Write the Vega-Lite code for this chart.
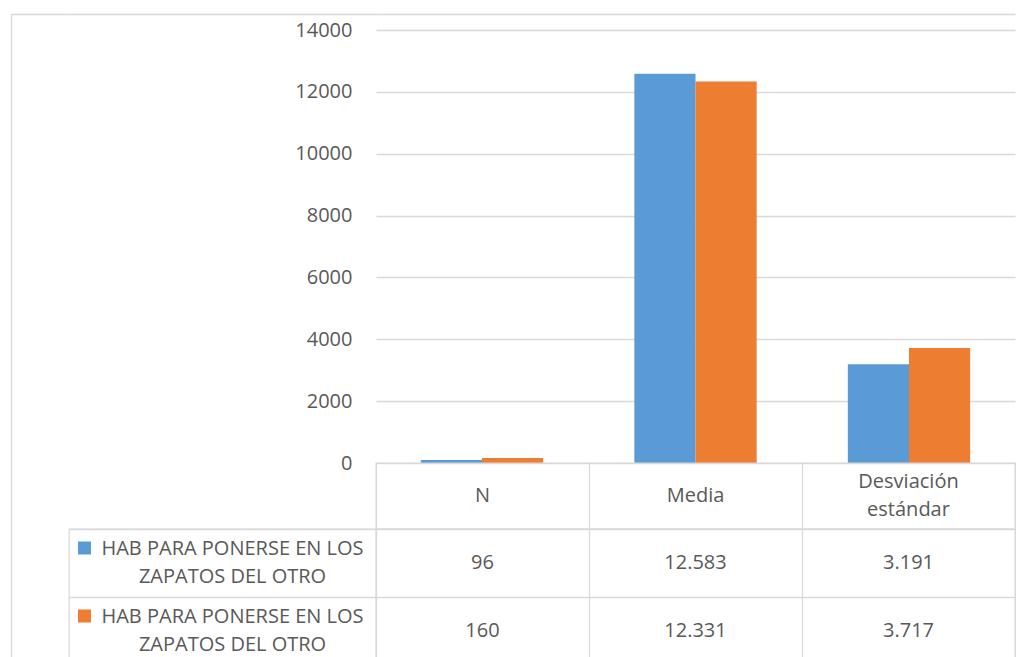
{
  "$schema": "https://vega.github.io/schema/vega-lite/v6.json",
  "background": "white",
  "padding": {"left": 8, "top": 11, "right": 0, "bottom": 0},
  "config": {
    "font": "Open Sans",
    "locale": {"number": {"decimal": ",", "thousands": ".", "grouping": [3], "currency": ["", " €"]}},
    "view": {"stroke": null},
    "axis": {"labelFont": "Open Sans"}
  },
  "datasets": {
    "stats": [
      {"estadistico": "N", "serie": "A", "valor": 96},
      {"estadistico": "N", "serie": "B", "valor": 160},
      {"estadistico": "Media", "serie": "A", "valor": 12583},
      {"estadistico": "Media", "serie": "B", "valor": 12331},
      {"estadistico": "Desviación estándar", "serie": "A", "valor": 3191},
      {"estadistico": "Desviación estándar", "serie": "B", "valor": 3717}
    ],
    "series": [
      {"serie": "A", "nombre": "HAB PARA PONERSE EN LOS\nZAPATOS DEL OTRO"},
      {"serie": "B", "nombre": "HAB PARA PONERSE EN LOS\nZAPATOS DEL OTRO"}
    ],
    "cols": [
      {"estadistico": "N"},
      {"estadistico": "Media"},
      {"estadistico": "Desviación estándar"}
    ],
    "blank": [{}]
  },
  "columns": 3,
  "spacing": 0,
  "bounds": "flush",
  "resolve": {"scale": {"x": "independent", "y": "independent", "color": "independent", "xOffset": "independent"}},
  "concat": [
    {
      "width": 58, "height": 16,
      "data": {"name": "blank"},
      "mark": {"type": "point", "opacity": 0},
      "encoding": {
        "x": {"datum": 0, "type": "quantitative", "axis": {"orient": "top", "domainColor": "#d9d9d9", "domainWidth": 1.3, "labels": false, "ticks": false, "grid": false, "title": null}},
        "y": {"datum": 0, "type": "quantitative", "axis": {"orient": "left", "domainColor": "#d9d9d9", "domainWidth": 1.3, "labels": false, "ticks": false, "grid": false, "title": null}}
      }
    },
    {
      "width": 307, "height": 16,
      "data": {"name": "blank"},
      "mark": {"type": "point", "opacity": 0},
      "encoding": {
        "x": {"datum": 0, "type": "quantitative", "axis": {"orient": "top", "domainColor": "#d9d9d9", "domainWidth": 1.3, "labels": false, "ticks": false, "grid": false, "title": null}}
      }
    },
    {
      "width": 639, "height": 16,
      "data": {"name": "blank"},
      "mark": {"type": "point", "opacity": 0},
      "encoding": {
        "x": {"datum": 0, "type": "quantitative", "axis": {"orient": "top", "domainColor": "#d9d9d9", "domainWidth": 1.3, "labels": false, "ticks": false, "grid": false, "title": null}}
      }
    },
    {
      "width": 58, "height": 433,
      "data": {"name": "blank"},
      "mark": {"type": "point", "opacity": 0},
      "encoding": {
        "y": {"datum": 0, "type": "quantitative", "axis": {"orient": "left", "domainColor": "#d9d9d9", "domainWidth": 1.3, "labels": false, "ticks": false, "grid": false, "title": null}}
      }
    },
    {
      "width": 307, "height": 433,
      "data": {"name": "blank"},
      "mark": {"type": "point", "opacity": 0},
      "encoding": {}
    },
    {
      "width": 639, "height": 433,
      "data": {"name": "stats"},
      "mark": {"type": "bar"},
      "encoding": {
        "x": {"field": "estadistico", "type": "nominal", "sort": ["N", "Media", "Desviación estándar"],
              "scale": {"paddingInner": 0.427, "paddingOuter": 0.21}, "axis": null},
        "xOffset": {"field": "serie", "type": "nominal", "sort": ["A", "B"], "scale": {"paddingInner": 0, "paddingOuter": 0}},
        "y": {"field": "valor", "type": "quantitative", "scale": {"domain": [0, 14000], "nice": false},
              "axis": {"values": [0, 2000, 4000, 6000, 8000, 10000, 12000, 14000], "format": "d", "domain": false, "ticks": false,
                       "gridColor": "#d9d9d9", "gridWidth": 1.3, "labelColor": "#595959", "labelFontSize": 20, "labelPadding": 24, "title": null}},
        "color": {"field": "serie", "type": "nominal", "scale": {"domain": ["A", "B"], "range": ["#5B9BD5", "#ED7D31"]}, "legend": null}
      }
    },
    {
      "width": 58, "height": 66,
      "data": {"name": "blank"},
      "mark": {"type": "point", "opacity": 0},
      "encoding": {
        "y": {"datum": 0, "type": "quantitative", "axis": {"orient": "left", "domainColor": "#d9d9d9", "domainWidth": 1.3, "labels": false, "ticks": false, "grid": false, "title": null}}
      }
    },
    {
      "width": 307, "height": 66,
      "data": {"name": "blank"},
      "mark": {"type": "point", "opacity": 0},
      "encoding": {}
    },
    {
      "width": 639, "height": 66,
      "data": {"name": "cols"},
      "view": {"stroke": "#d9d9d9", "strokeWidth": 1.3},
      "encoding": {
        "x": {"field": "estadistico", "type": "nominal", "sort": ["N", "Media", "Desviación estándar"],
              "scale": {"paddingInner": 0, "paddingOuter": 0},
              "axis": {"grid": true, "tickBand": "extent", "gridColor": "#d9d9d9", "gridWidth": 1.3, "labels": false, "ticks": false, "domain": false, "title": null}},
        "text": {"field": "estadistico"}
      },
      "layer": [
        {
          "transform": [{"filter": "indexof(datum.estadistico, ' ') < 0"}],
          "mark": {"type": "text", "lineBreak": " ", "lineHeight": 28, "fontSize": 20, "color": "#595959"}
        },
        {
          "transform": [{"filter": "indexof(datum.estadistico, ' ') >= 0"}],
          "mark": {"type": "text", "lineBreak": " ", "lineHeight": 28, "fontSize": 20, "color": "#595959", "dy": -14}
        }
      ]
    },
    {
      "width": 58, "height": 136,
      "data": {"name": "blank"},
      "mark": {"type": "point", "opacity": 0},
      "encoding": {
        "y": {"datum": 0, "type": "quantitative", "axis": {"orient": "left", "domainColor": "#d9d9d9", "domainWidth": 1.3, "labels": false, "ticks": false, "grid": false, "title": null}}
      }
    },
    {
      "width": 307, "height": 136,
      "data": {"name": "series"},
      "view": {"stroke": "#d9d9d9", "strokeWidth": 1.3},
      "layer": [
        {
          "mark": {"type": "text", "lineBreak": "\n", "lineHeight": 28, "fontSize": 20, "color": "#595959", "dx": 10, "dy": -14},
          "encoding": {
            "y": {"field": "serie", "type": "nominal", "sort": ["A", "B"], "scale": {"paddingInner": 0, "paddingOuter": 0},
                  "axis": {"grid": true, "tickBand": "extent", "gridColor": "#d9d9d9", "gridWidth": 1.3, "labels": false, "ticks": false, "domain": false, "title": null}},
            "text": {"field": "nombre"}
          }
        },
        {
          "mark": {"type": "point", "shape": "square", "filled": true, "opacity": 1, "size": 169, "xOffset": -138, "yOffset": -15},
          "encoding": {
            "y": {"field": "serie", "type": "nominal", "sort": ["A", "B"]},
            "color": {"field": "serie", "type": "nominal", "scale": {"domain": ["A", "B"], "range": ["#5B9BD5", "#ED7D31"]}, "legend": null}
          }
        }
      ]
    },
    {
      "width": 639, "height": 136,
      "data": {"name": "stats"},
      "view": {"stroke": "#d9d9d9", "strokeWidth": 1.3},
      "mark": {"type": "text", "fontSize": 20, "color": "#595959"},
      "encoding": {
        "x": {"field": "estadistico", "type": "nominal", "sort": ["N", "Media", "Desviación estándar"],
              "scale": {"paddingInner": 0, "paddingOuter": 0},
              "axis": {"grid": true, "tickBand": "extent", "gridColor": "#d9d9d9", "gridWidth": 1.3, "labels": false, "ticks": false, "domain": false, "title": null}},
        "y": {"field": "serie", "type": "nominal", "sort": ["A", "B"], "scale": {"paddingInner": 0, "paddingOuter": 0},
              "axis": {"grid": true, "tickBand": "extent", "gridColor": "#d9d9d9", "gridWidth": 1.3, "labels": false, "ticks": false, "domain": false, "title": null}},
        "text": {"field": "valor", "type": "quantitative", "format": ",d"}
      }
    }
  ]
}
